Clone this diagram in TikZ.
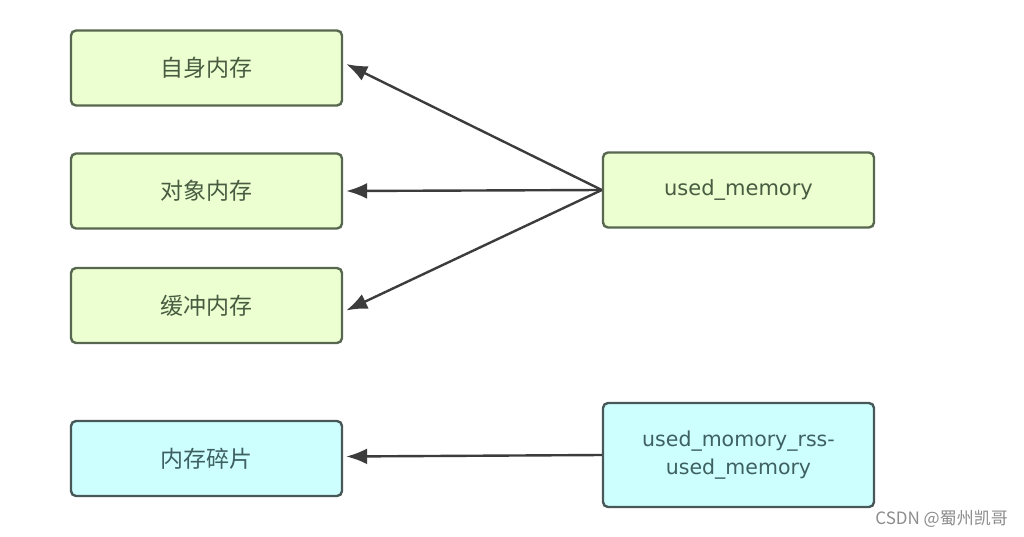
\documentclass[tikz,border=0pt]{standalone}
\usepackage{fontspec}
\setmainfont{DejaVu Sans}
\newfontfamily\cjk{Noto Sans CJK SC}
\usetikzlibrary{arrows.meta}
\definecolor{gfill}{RGB}{236,255,208}
\definecolor{gdraw}{RGB}{88,104,80}
\definecolor{gtext}{RGB}{72,92,66}
\definecolor{cfill}{RGB}{206,255,255}
\definecolor{cdraw}{RGB}{72,88,88}
\definecolor{ctext}{RGB}{62,96,96}
\definecolor{arr}{RGB}{60,60,60}
\tikzset{
  gbox/.style={draw=gdraw, fill=gfill, line width=2.4pt, rounded corners=5pt,
    minimum width=271pt, minimum height=75pt, text=gtext, font=\cjk\fontsize{23pt}{26pt}\selectfont, inner sep=0pt},
  cbox/.style={gbox, draw=cdraw, fill=cfill, text=ctext, align=center},
  conn/.style={draw=arr, line width=2.4pt, -{Latex[length=21pt,width=16pt]}}
}
\begin{document}
\begin{tikzpicture}[x=1pt,y=-1pt]
\useasboundingbox (0,0) rectangle (1024,537);
\fill[white] (0,0) rectangle (1024,537);
\node[gbox] (a) at (206.5,68) {自身内存};
\node[gbox] (b) at (206.5,191) {对象内存};
\node[gbox] (c) at (206.5,305.5) {缓冲内存};
\node[cbox] (d) at (206.5,458.5) {内存碎片};
\node[gbox, font=\fontsize{21pt}{24pt}\selectfont] (u) at (738.5,190) {used\_memory};
\node[cbox, minimum height=104pt, font=\fontsize{20.5pt}{28pt}\selectfont] (f) at (738.5,455) {used\_momory\_rss-\\used\_memory};
\draw[conn] (u.west) -- ([xshift=3pt,yshift=4pt]a.east);
\draw[conn] (u.west) -- ([xshift=3pt]b.east);
\draw[conn] (u.west) -- ([xshift=3pt,yshift=-5pt]c.east);
\draw[conn] (f.west) -- ([xshift=3pt,yshift=2pt]d.east);
\node[text=gray!90, font=\cjk\fontsize{17pt}{20pt}\selectfont, anchor=east, inner sep=0pt] (w) at (1008,519) {CSDN @蜀州凯哥};
\end{tikzpicture}
\end{document}
